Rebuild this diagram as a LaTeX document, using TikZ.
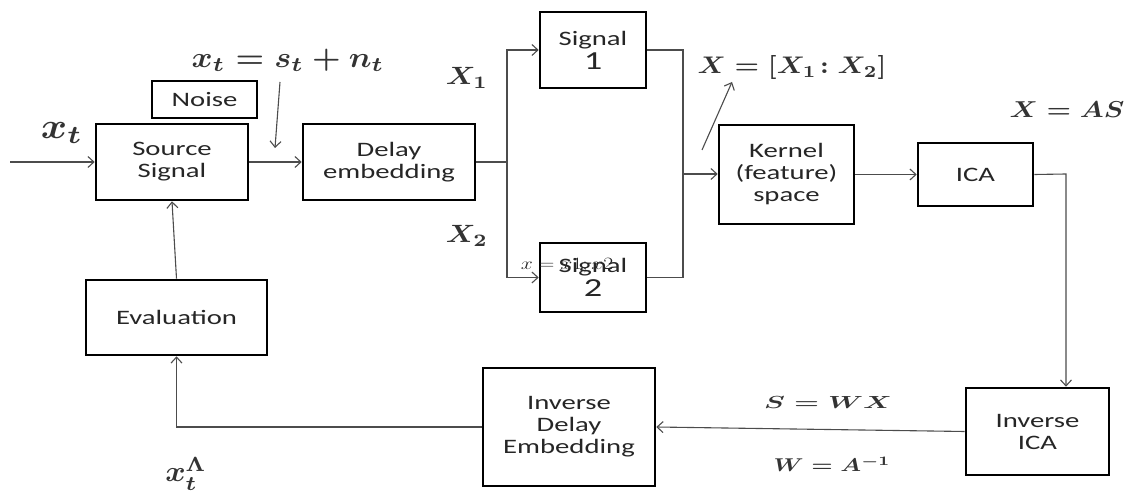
\documentclass[tikz,border=0pt]{standalone}
\usepackage{fontspec}
\setmainfont{Carlito}[FakeStretch=1.4]
\usepackage{graphicx}
\usetikzlibrary{arrows.meta}
\newcommand{\mlab}[3]{\scalebox{#1}[#2]{\boldmath$#3$}}
\begin{document}
\begin{tikzpicture}[x=1pt,y=-1pt,
  blk/.style={draw=black,line width=2.6pt,fill=white,inner sep=0pt,align=center,
    font=\fontsize{20.5}{22}\selectfont,text=black!85},
  conn/.style={draw=black!70,line width=1.1pt},
  arr/.style={conn,-{Straight Barb[length=6pt,width=11pt,line width=1.1pt]}},
  mathlab/.style={inner sep=0pt,text=black!80}]
\useasboundingbox (0,0) rectangle (1128,494);
% blocks
\node[blk,minimum width=105pt,minimum height=37pt] (noise) at (204.5,99.5) {Noise};
\node[blk,minimum width=152pt,minimum height=76pt] (source) at (172,162) {Source\\Signal};
\node[blk,minimum width=172pt,minimum height=76pt] (delay) at (389,162) {Delay\\embedding};
\node[blk,minimum width=106pt,minimum height=76pt] (sig1) at (593,50) {Signal\\[2pt]{\fontsize{26}{26}\selectfont 1}};
\node[blk,minimum width=106pt,minimum height=69pt] (sig2) at (593,277.5) {Signal\\[2pt]{\fontsize{26}{26}\selectfont 2}};
\node[inner sep=0pt,text=black!85] (ovl) at (567,266) {\scalebox{1.25}[1.0]{\fontsize{19}{19}\selectfont $x = x1;x2$}};
\node[blk,minimum width=135pt,minimum height=99pt] (kernel) at (786.5,174.5) {Kernel\\(feature)\\space};
\node[blk,minimum width=115pt,minimum height=63pt] (ica) at (975.5,174.5) {ICA};
\node[blk,minimum width=143pt,minimum height=87pt] (invica) at (1037.5,431.5) {Inverse\\ICA};
\node[blk,minimum width=172pt,minimum height=118pt] (invdelay) at (569,427) {Inverse\\Delay\\Embedding};
\node[blk,minimum width=181pt,minimum height=75pt] (eval) at (176.5,317.5) {Evaluation};
% math labels
\node[mathlab] (lxt) at (62,133) {\mlab{4.0}{3.6}{x_t}};
\node[mathlab] (lxsn) at (288,60) {\mlab{3.2}{2.9}{x_t = s_t + n_t}};
\node[mathlab] (lX1) at (467,78) {\mlab{2.9}{2.5}{X_1}};
\node[mathlab] (lX2) at (467,236) {\mlab{2.9}{2.5}{X_2}};
\node[mathlab] (lX) at (792,68) {\mlab{2.75}{2.4}{X = [X_1\!: X_2]}};
\node[mathlab] (lXAS) at (1067,110) {\mlab{2.75}{2.3}{X = AS}};
\node[mathlab] (lSWX) at (828,402) {\mlab{2.8}{1.75}{S = WX}};
\node[mathlab] (lWA) at (832,464) {\mlab{2.4}{1.85}{W = A^{-1}}};
\node[mathlab] (lxhat) at (186,474) {\mlab{3.1}{2.9}{x_t^{\Lambda}}};
% coordinates
\coordinate (in) at (10,162);
\coordinate (nt1) at (280,82);
\coordinate (nt2) at (275,148);
\coordinate (split) at (507,162);
\coordinate (join) at (683,174);
\coordinate (xa1) at (702,150);
\coordinate (xa2) at (732,82);
\coordinate (down) at (1066,174);
% connectors
\draw[arr] (in) -- (source.west);
\draw[arr] (source.east) -- (delay.west);
\draw[arr] (nt1) -- (nt2);
\draw[conn] (delay.east) -- (split);
\draw[arr] (split) |- (sig1.west);
\draw[arr] (split) |- (sig2.west);
\draw[conn] (sig1.east) -| (join) -- (join |- sig2.east) -- (sig2.east);
\draw[arr] (join) -- (join -| kernel.west);
\draw[arr] (xa1) -- (xa2);
\draw[arr] (kernel.east |- ica.west) -- (ica.west);
\draw[arr] (ica.east) -- (down) -- (down |- invica.north);
\draw[arr] (invica.west) -- (invdelay.east);
\draw[arr] (invdelay.west) -| (eval.south);
\draw[arr] (eval.north) -- (source.south);
\end{tikzpicture}
\end{document}
